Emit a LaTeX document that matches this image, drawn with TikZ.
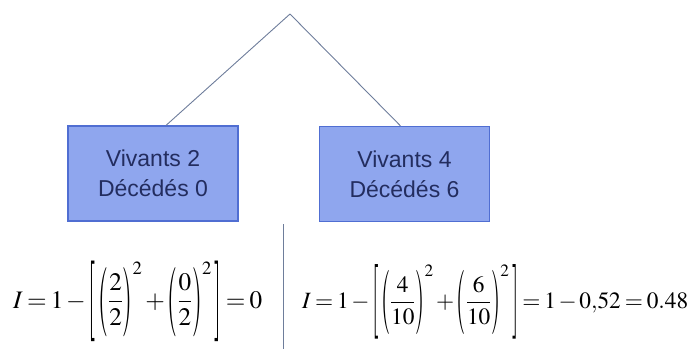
\documentclass[tikz,border=0pt]{standalone}
\usepackage{amsmath}
\usepackage{graphicx}
\usepackage{mathptmx}
\usepackage[no-math]{fontspec}
\setmainfont{Liberation Sans}
\definecolor{boxfill}{RGB}{143,166,238}
\definecolor{boxdraw}{RGB}{80,110,210}
\definecolor{boxtext}{RGB}{35,45,95}
\definecolor{linecol}{RGB}{110,125,155}
\newcommand{\stretchdelim}[2]{\vcenter{\hbox{\scalebox{1}[#1]{$#2$}}}}
\newcommand{\lp}{\mathopen{\stretchdelim{2.75}{(}}}
\newcommand{\rp}{\mathclose{\stretchdelim{2.75}{)}}}
\newcommand{\lb}{\mathopen{\stretchdelim{3.2}{[}}}
\newcommand{\rb}{\mathclose{\stretchdelim{3.2}{]}}}
\newcommand{\tightmath}{\medmuskip=2mu\thickmuskip=3mu}
\tikzset{
  leaf/.style={draw=boxdraw, fill=boxfill, line width=1.2pt, minimum width=170pt, minimum height=95pt,
    text=boxtext, align=center, font=\fontsize{23}{30}\selectfont, inner sep=0pt},
  branch/.style={draw=linecol, line width=0.9pt},
  sep/.style={draw=linecol, line width=1pt},
  formula/.style={anchor=base west, inner sep=0pt, font=\fontsize{27}{32}\selectfont}
}
\begin{document}
\begin{tikzpicture}[x=1pt,y=-1pt]
\useasboundingbox (0,0) rectangle (697,351);
\coordinate (top) at (290,14);
\node[leaf] (L) at (153,173.5) {Vivants 2\\Décédés 0};
\node[leaf] (R) at (404.5,174) {Vivants 4\\Décédés 6};
\draw[branch] (top) -- ([xshift=13pt]L.north);
\draw[branch] (top) -- ([xshift=-4pt]R.north);
\coordinate (s1) at (283,224);
\coordinate (s2) at (283,349);
\draw[sep] (s1) -- (s2);
\node[formula] (fL) at (13,308) {\resizebox{249pt}{!}{$\tightmath I=1-\lb\,\lp\dfrac{2}{2}\rp^{2}+\lp\dfrac{0}{2}\rp^{2}\,\rb=0$}};
\node[formula] (fR) at (302,308) {\resizebox{386pt}{!}{$\tightmath I=1-\lb\,\lp\dfrac{4}{10}\rp^{2}+\lp\dfrac{6}{10}\rp^{2}\,\rb=1-0{,}52=0.48$}};
\end{tikzpicture}
\end{document}
